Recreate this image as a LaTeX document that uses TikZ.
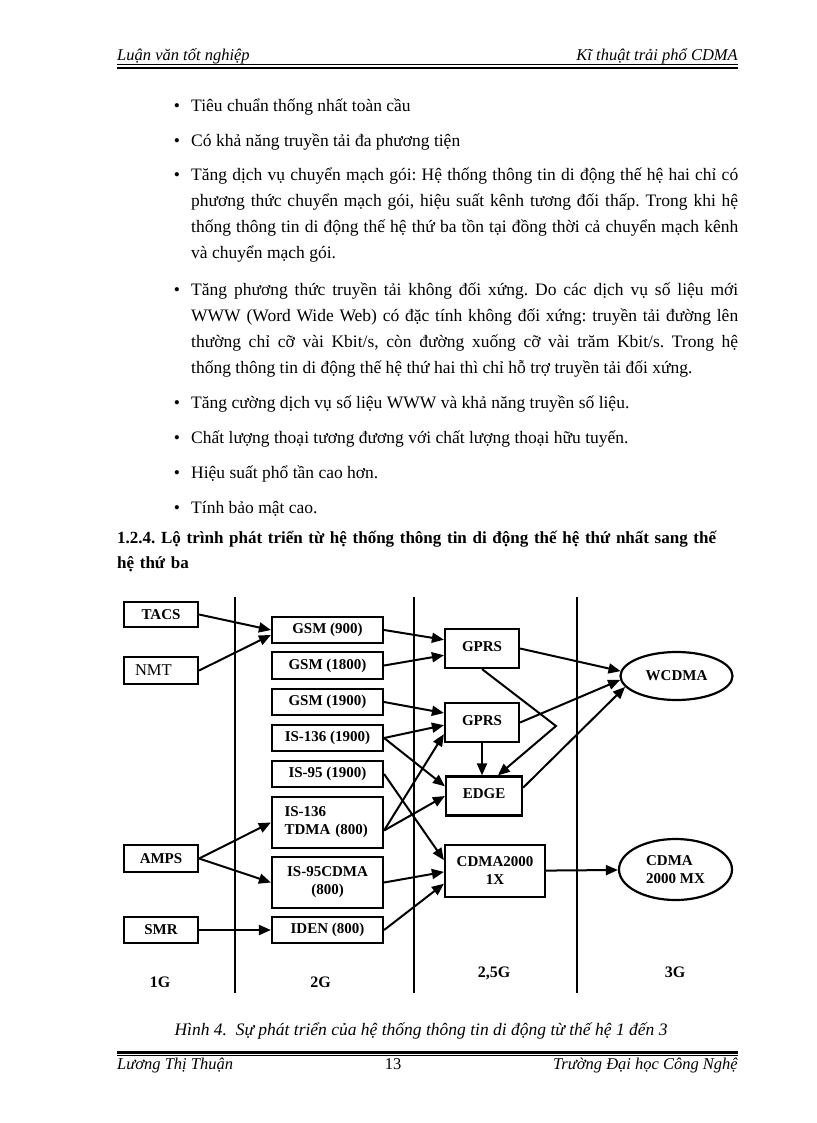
\documentclass[tikz,border=0pt]{standalone}
\usepackage{fontspec}
\setmainfont{Liberation Serif}
\usetikzlibrary{arrows.meta,shapes.geometric}
\frenchspacing

\begin{document}
\begin{tikzpicture}[x=1pt, y=-1pt,
    box/.style={draw, line width=2.2pt, inner sep=0pt, minimum width=111pt, minimum height=26pt, align=center, font=\fontsize{15}{18}\selectfont\bfseries},
    sbox/.style={box, minimum width=74pt},
    oval/.style={box, ellipse, minimum width=112pt, minimum height=48pt},
    arr/.style={-{Triangle[length=12pt,width=10pt]}, line width=2pt},
    sep/.style={line width=2.2pt},
    body/.style={anchor=base west, inner sep=0pt, text width=547pt, align=justify, font=\fontsize{17.5}{26}\selectfont},
    dot/.style={anchor=base, inner sep=0pt, font=\fontsize{17.5}{26}\selectfont},
    gen/.style={inner sep=0pt, font=\fontsize{16}{18}\selectfont\bfseries},
    pagetext/.style={inner sep=0pt, font=\fontsize{16.5}{18}\selectfont\itshape}
]
\fill[white] (0,0) rectangle (816,1123);
\useasboundingbox (0,0) rectangle (816,1123);

% Header
\node[pagetext, anchor=base west] (hdl) at (117,61) {Luận văn tốt nghiệp};
\node[pagetext, anchor=base east] (hdr) at (738,61) {Kĩ thuật trải phổ CDMA};
\draw[line width=0.8pt] (117,64.5) -- (738,64.5);
\draw[line width=2.2pt] (117,68) -- (738,68);

% Bullet list
\foreach \y/\n in {111.5/1,146.5/2,181/3,295/4,408/5,443/6,478/7,513/8}
    \node[dot] (dot\n) at (177,\y) {•};
\node[body] (it1) at (191,111.5) {Tiêu chuẩn thống nhất toàn cầu};
\node[body] (it2) at (191,146.5) {Có khả năng truyền tải đa phương tiện};
\node[body] (it3) at (191,181) {Tăng dịch vụ chuyển mạch gói: Hệ thống thông tin di động thế hệ hai chỉ có\linebreak
    phương thức chuyển mạch gói, hiệu suất kênh tương đối thấp. Trong khi hệ\linebreak
    thống thông tin di động thế hệ thứ ba tồn tại đồng thời cả chuyển mạch kênh\linebreak
    và chuyển mạch gói.};
\node[body] (it4) at (191,295) {Tăng phương thức truyền tải không đối xứng. Do các dịch vụ số liệu mới\linebreak
    WWW (Word Wide Web) có đặc tính không đối xứng: truyền tải đường lên\linebreak
    thường chỉ cỡ vài Kbit/s, còn đường xuống cỡ vài trăm Kbit/s. Trong hệ\linebreak
    thống thông tin di động thế hệ thứ hai thì chỉ hỗ trợ truyền tải đối xứng.};
\node[body] (it5) at (191,408) {Tăng cường dịch vụ số liệu WWW và khả năng truyền số liệu.};
\node[body] (it6) at (191,443) {Chất lượng thoại tương đương với chất lượng thoại hữu tuyến.};
\node[body] (it7) at (191,478) {Hiệu suất phổ tần cao hơn.};
\node[body] (it8) at (191,513) {Tính bảo mật cao.};

% Section heading
\node[body, text width=640pt, align=left, font=\fontsize{17}{25.5}\selectfont\bfseries] (sec) at (117,543)
    {1.2.4. Lộ trình phát triển từ hệ thống thông tin di động thế hệ thứ nhất sang thế\\hệ thứ ba};

% Generation separators
\foreach \x in {235,414,577}
    \draw[sep] (\x,597) -- (\x,993);

% 1G
\node[sbox, minimum height=25pt] (tacs) at (161,614.5) {TACS};
\node[sbox, minimum height=27pt, font=\fontsize{16.5}{18}\selectfont, text width=52pt, align=left] (nmt) at (161,670.5) {NMT};
\node[sbox, minimum height=27pt] (amps) at (161,858.5) {AMPS};
\node[sbox] (smr) at (161,930) {SMR};

% 2G
\node[box] (gsm900) at (327.5,630) {GSM (900)};
\node[box, minimum height=27pt] (gsm1800) at (327.5,665.5) {GSM (1800)};
\node[box] (gsm1900) at (327.5,702) {GSM (1900)};
\node[box] (is136a) at (327.5,738) {IS-136 (1900)};
\node[box] (is95a) at (327.5,774) {IS-95 (1900)};
\node[box, minimum height=51pt, text width=86pt, align=left] (is136b) at (327.5,822.5) {IS-136\\TDMA (800)};
\node[box, minimum height=51pt] (is95b) at (327.5,882.5) {IS-95CDMA\\(800)};
\node[box] (iden) at (327.5,930) {IDEN (800)};

% 2,5G
\node[sbox, minimum height=39pt] (gprsa) at (482,648.5) {\raisebox{4pt}{GPRS}};
\node[sbox, minimum height=39pt] (gprsb) at (482,722.5) {\raisebox{4pt}{GPRS}};
\node[sbox, minimum width=76pt, minimum height=39pt] (edge) at (484,796) {\raisebox{4pt}{EDGE}};
\node[box, minimum width=100pt, minimum height=52pt] (cdma1x) at (495,871) {CDMA2000\\1X};

% 3G
\node[oval] (wcdma) at (676.5,676) {WCDMA};
\node[oval, minimum width=113pt, minimum height=61pt, align=left] (cdmamx) at (675.5,869.5) {CDMA\\2000 MX};

% Generation labels
\node[gen] (g1) at (160,982) {1G};
\node[gen] (g2) at (320.5,982) {2G};
\node[gen] (g25) at (494,973) {2,5G};
\node[gen] (g3) at (675,972) {3G};

% 1G to 2G
\draw[arr] (tacs.east) -- (gsm900.west);
\draw[arr] (nmt.east) -- (gsm900.185);
\draw[arr] (amps.east) -- (is136b.west);
\draw[arr] (amps.east) -- (is95b.west);
\draw[arr] (smr) -- (iden);

% 2G to 2,5G
\draw[arr] (gsm900.east) -- (gprsa.167);
\draw[arr] (gsm1800.east) -- (gprsa.190);
\draw[arr] (gsm1900.east) -- (gprsb.166);
\draw[arr] (is136a.east) -- (gprsb.184);
\draw[arr] (is136a.east) -- (edge.166);
\draw[arr] (is136b.-8) -- (gprsb.197);
\draw[arr] (is136b.-8) -- (edge.west);
\draw[arr] (is95a.east) -- (cdma1x.168);
\draw[arr] (is95b.east) -- (cdma1x.181);
\draw[arr] (iden.east) -- (cdma1x.194);

% Inside 2,5G
\coordinate (kink) at (556,726);
\draw[arr] (gprsb.south) -- (gprsb.south |- edge.north);
\draw[arr] (gprsa.south) -- (kink) -- (edge.56);

% 2,5G to 3G
\draw[arr] (gprsa.east) -- (wcdma.175);
\draw[arr] (gprsb.east) -- (wcdma.184);
\draw[arr] (edge.12) -- (wcdma.192);
\draw[arr] (cdma1x) -- (cdmamx);

% Caption
\node[inner sep=0pt, anchor=base, font=\fontsize{17.5}{20}\selectfont\itshape] (fig) at (421,1035)
    {Hình 4.\ \ Sự phát triển của hệ thống thông tin di động từ thế hệ 1 đến 3};

% Footer
\draw[line width=2.2pt] (117,1052.5) -- (738,1052.5);
\draw[line width=0.8pt] (117,1055.8) -- (738,1055.8);
\node[pagetext, anchor=base west] (ftl) at (117,1069) {Lương Thị Thuận};
\node[pagetext, anchor=base, font=\fontsize{16.5}{18}\selectfont] (ftc) at (393,1069) {13};
\node[pagetext, anchor=base east] (ftr) at (738,1069) {Trường Đại học Công Nghệ};
\end{tikzpicture}
\end{document}
